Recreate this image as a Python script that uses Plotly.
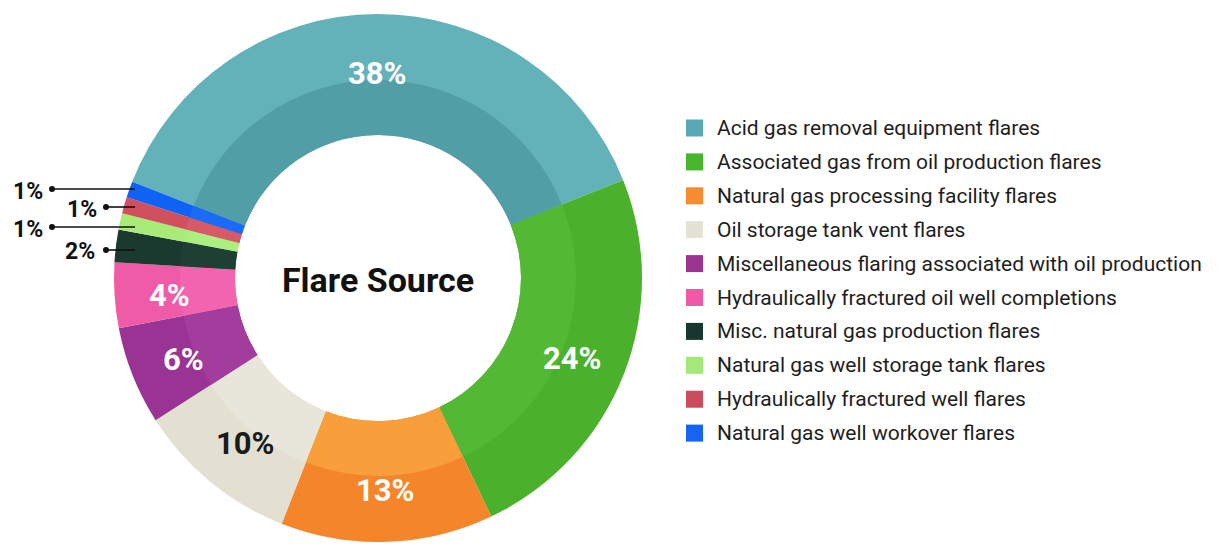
import math
import plotly.graph_objects as go

# Flaring share by source
labels = [
    "Acid gas removal equipment flares",
    "Associated gas from oil production flares",
    "Natural gas processing facility flares",
    "Oil storage tank vent flares",
    "Miscellaneous flaring associated with oil production",
    "Hydraulically fractured oil well completions",
    "Misc. natural gas production flares",
    "Natural gas well storage tank flares",
    "Hydraulically fractured well flares",
    "Natural gas well workover flares",
]
shares = [38, 24, 13, 10, 6, 4, 2, 1, 1, 1]

outer_colors = ["#63B2BA", "#4BB02C", "#F5852A", "#E3E0D2", "#9A3494",
                "#F05BA8", "#1A3A2F", "#A8EB79", "#D0505E", "#0F63F4"]
inner_colors = ["#529EA7", "#53B833", "#F89E3B", "#E8E6DA", "#A23C9D",
                "#F265AE", "#1E4034", "#ADEE80", "#D65A67", "#1A6BF5"]
legend_colors = ["#58A9B3", "#48B52E", "#F78B30", "#E3E2D5", "#993491",
                 "#EF5AA8", "#17362D", "#A5E87A", "#CB4C5C", "#1763F2"]

# Callout placement for the thinnest slices (index -> label / dot position in px)
callouts = {
    9: {"text": (28, 190), "dot": (52, 189)},
    8: {"text": (82, 208), "dot": (106, 207)},
    7: {"text": (28, 228), "dot": (52, 227)},
    6: {"text": (80, 251), "dot": (106, 250)},
}

W, H = 1222, 546
CX, CY = 378, 278
R_OUT, R_BAND, R_HOLE, R_TEXT = 264, 198, 143, 209
ROTATION = -68.6   # degrees, clockwise from 12 o'clock
MIN_INSIDE = 4     # smaller shares get an outside callout


def px(x):
    return x / W


def py(y):
    return 1 - y / H


def domain(r):
    return dict(x=[px(CX - r), px(CX + r)], y=[py(CY + r), py(CY - r)])


FONT = "Roboto, 'Open Sans', Arial, sans-serif"

fig = go.Figure()

# outer ring
fig.add_trace(go.Pie(
    labels=labels, values=shares, sort=False, direction="clockwise",
    rotation=ROTATION, hole=R_HOLE / R_OUT, domain=domain(R_OUT),
    marker=dict(colors=outer_colors, line=dict(width=0)),
    textinfo="none", hoverinfo="label+percent", showlegend=False,
    title=dict(text="Flare Source", position="middle center",
               font=dict(family=FONT, size=34, color="#111111", weight=700)),
))

# inner bevel band
fig.add_trace(go.Pie(
    labels=labels, values=shares, sort=False, direction="clockwise",
    rotation=ROTATION, hole=R_HOLE / R_BAND, domain=domain(R_BAND),
    marker=dict(colors=inner_colors, line=dict(width=0)),
    textinfo="none", hoverinfo="label+percent", showlegend=False,
))

shapes = []
annotations = []

# percentage labels on the larger slices, placed on each slice's mid-angle
total = sum(shares)
cum = 0.0
for i, v in enumerate(shares):
    mid = ROTATION + 360.0 * (cum + v / 2) / total
    cum += v
    if v < MIN_INSIDE:
        continue
    a = math.radians(mid)
    x = CX + R_TEXT * math.sin(a)
    y = CY - R_TEXT * math.cos(a)
    color = "#1B1B1B" if labels[i].startswith("Oil storage") else "#FFFFFF"
    annotations.append(dict(x=px(x), y=py(y), xref="paper", yref="paper",
                            text=f"{v}%", showarrow=False, yshift=-4,
                            xanchor="center", yanchor="middle",
                            font=dict(family=FONT, size=31, color=color, weight=700)))

# callouts for the small slices
for idx, pos in callouts.items():
    tx, ty = pos["text"]
    dx, dy = pos["dot"]
    x_end = 135
    shapes.append(dict(type="line", xref="paper", yref="paper",
                       x0=px(dx), y0=py(dy), x1=px(x_end), y1=py(dy),
                       line=dict(color="#111111", width=1.6)))
    shapes.append(dict(type="circle", xref="paper", yref="paper",
                       x0=px(dx - 3), y0=py(dy + 3), x1=px(dx + 3), y1=py(dy - 3),
                       fillcolor="#111111", line=dict(width=0)))
    annotations.append(dict(x=px(tx), y=py(ty), xref="paper", yref="paper",
                            text=f"{shares[idx]}%", showarrow=False, yshift=-1,
                            xanchor="center", yanchor="middle",
                            font=dict(family=FONT, size=23, color="#111111", weight=700)))

# legend
LEG_X, LEG_Y0, LEG_DY, SQ = 686, 128, 33.9, 17
for i, (lab, col) in enumerate(zip(labels, legend_colors)):
    yc = LEG_Y0 + i * LEG_DY
    shapes.append(dict(type="rect", xref="paper", yref="paper",
                       x0=px(LEG_X), x1=px(LEG_X + SQ),
                       y0=py(yc + SQ / 2), y1=py(yc - SQ / 2),
                       fillcolor=col, line=dict(width=0)))
    annotations.append(dict(x=px(LEG_X + SQ + 12), y=py(yc), xref="paper", yref="paper",
                            text=lab, showarrow=False, xanchor="left", yanchor="middle",
                            font=dict(family=FONT, size=21, color="#1E1E1E")))

fig.update_layout(
    width=W, height=H,
    margin=dict(l=0, r=0, t=0, b=0),
    paper_bgcolor="white", plot_bgcolor="white",
    shapes=shapes, annotations=annotations,
    showlegend=False,
)

fig.write_html("out.html")
